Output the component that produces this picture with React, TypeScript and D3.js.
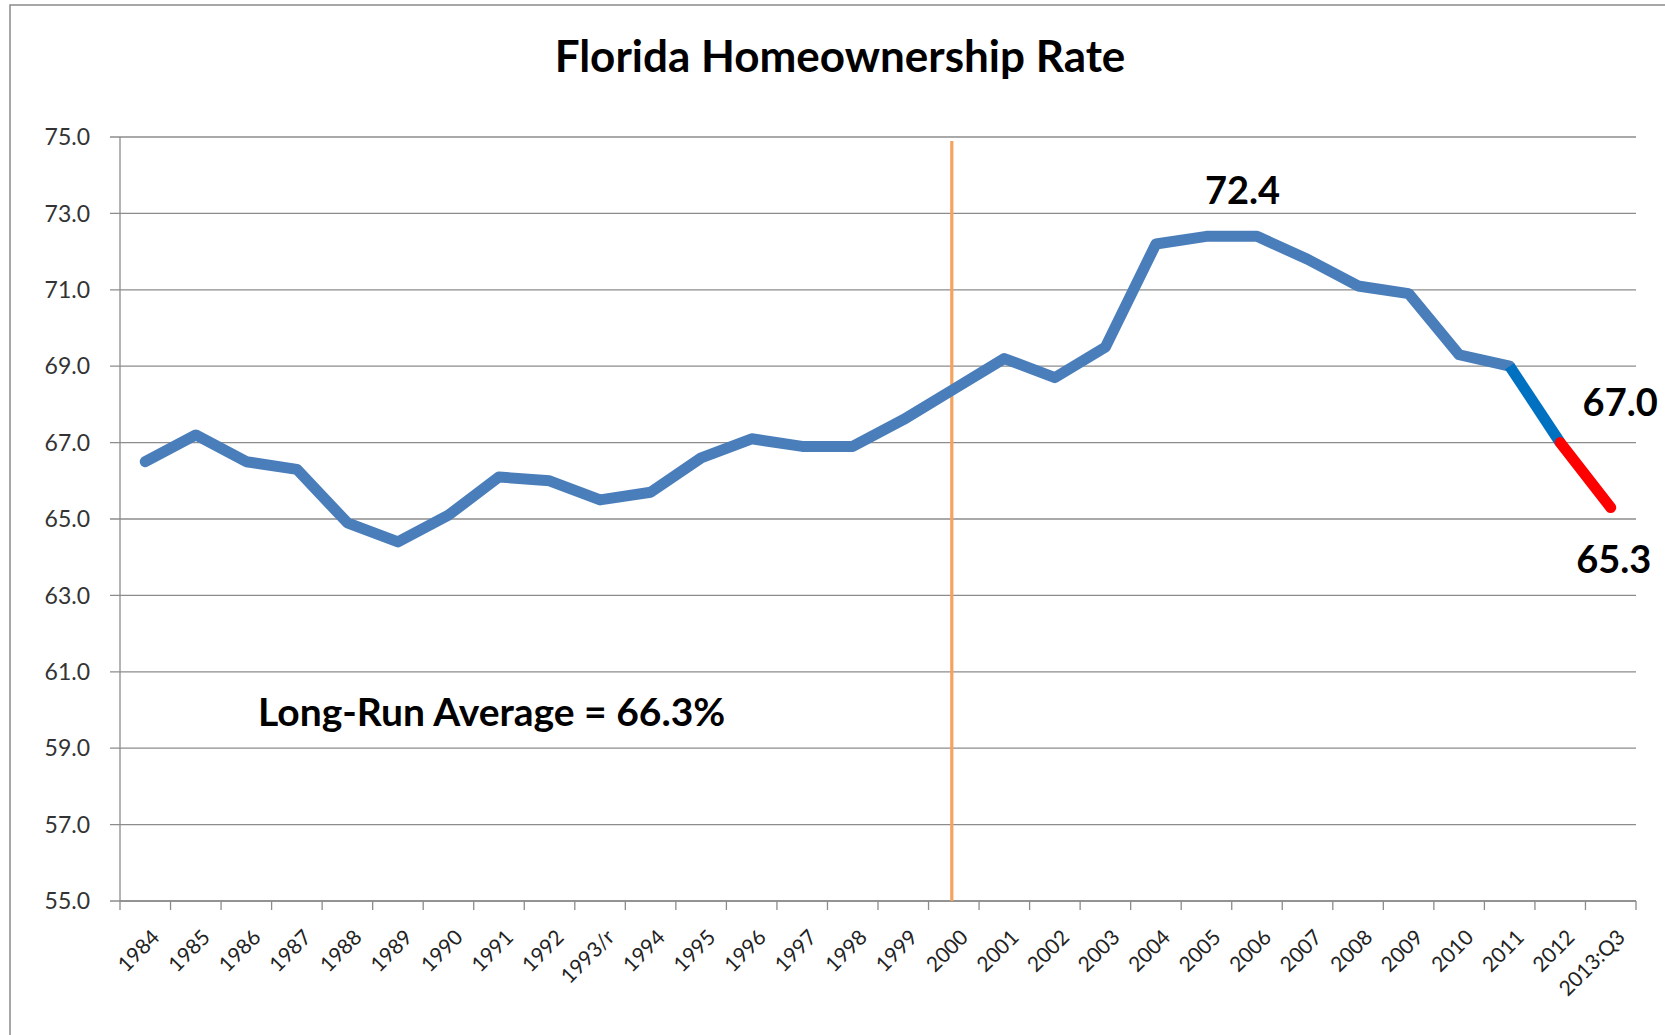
import { useMemo } from 'react';
import * as d3 from 'd3';

const W = 1665;
const H = 1035;

const CATEGORIES = [
  '1984', '1985', '1986', '1987', '1988', '1989', '1990', '1991', '1992', '1993/r',
  '1994', '1995', '1996', '1997', '1998', '1999', '2000', '2001', '2002', '2003',
  '2004', '2005', '2006', '2007', '2008', '2009', '2010', '2011', '2012', '2013:Q3',
];

const RATES = [
  66.5, 67.2, 66.5, 66.3, 64.9, 64.4, 65.1, 66.1, 66.0, 65.5,
  65.7, 66.6, 67.1, 66.9, 66.9, 67.6, 68.4, 69.2, 68.7, 69.5,
  72.2, 72.4, 72.4, 71.8, 71.1, 70.9, 69.3, 69.0, 67.0, 65.3,
];

const Y_TICKS = [55, 57, 59, 61, 63, 65, 67, 69, 71, 73, 75];
const MARKER_CATEGORY = '2000';

// labelled points: category, text, offsets from the point
const CALLOUTS = [
  { cat: '2005', text: '72.4', dx: 36, dy: -32 },
  { cat: '2012', text: '67.0', dx: 60, dy: -27 },
  { cat: '2013:Q3', text: '65.3', dx: 3, dy: 65 },
];

const FONT = 'Lato, "Open Sans", sans-serif';
const MAIN_BLUE = '#4a7ebb';

const margin = { top: 137, right: 29, bottom: 134, left: 120 };

export default function App() {
  const plotW = W - margin.left - margin.right;
  const plotH = H - margin.top - margin.bottom;

  const x = useMemo(
    () => d3.scaleBand().domain(CATEGORIES).range([0, plotW]).paddingInner(0).paddingOuter(0),
    [plotW]
  );
  const y = useMemo(() => d3.scaleLinear().domain([55, 75]).range([plotH, 0]), [plotH]);
  const cx = (c: string) => (x(c) as number) + x.bandwidth() / 2;

  const pts = CATEGORIES.map((c, i) => [cx(c), y(RATES[i])] as [number, number]);
  const line = d3.line();

  const n = pts.length;
  const mainPath = line(pts.slice(0, n - 2)) as string;
  const bluePath = line(pts.slice(n - 3, n - 1)) as string;
  const redPath = line(pts.slice(n - 2, n)) as string;

  const tickXs = CATEGORIES.map(c => x(c) as number).concat([plotW]);
  const markerX = cx(MARKER_CATEGORY) - 2;

  return (
    <div style={{ position: 'fixed', left: 0, top: 0, width: W, height: H, background: '#fff' }}>
      <svg width={W} height={H} style={{ display: 'block' }}>
        <rect x={0} y={0} width={W} height={H} fill="#fff" />
        {/* chart frame */}
        <rect x={10} y={5} width={W + 50} height={H + 50} fill="none" stroke="#8a8a8a" strokeWidth={1.5} />

        <text
          x={840}
          y={72}
          textAnchor="middle"
          fontFamily={FONT}
          fontWeight={700}
          fontSize={44}
          fill="#000"
        >
          Florida Homeownership Rate
        </text>

        <g transform={`translate(${margin.left},${margin.top})`}>
          {/* gridlines + y labels */}
          {Y_TICKS.map(t => (
            <g key={t} transform={`translate(0,${y(t)})`}>
              <line x1={-10} x2={plotW} stroke="#8c8c8c" strokeWidth={1.3} />
              <text
                x={-30}
                dy="0.36em"
                textAnchor="end"
                fontFamily={FONT}
                fontSize={23}
                fill="#333"
              >
                {t.toFixed(1)}
              </text>
            </g>
          ))}

          {/* y axis */}
          <line x1={0} x2={0} y1={0} y2={plotH} stroke="#8c8c8c" strokeWidth={1.3} />

          {/* x axis */}
          <line x1={0} x2={plotW} y1={plotH} y2={plotH} stroke="#8c8c8c" strokeWidth={1.3} />
          {tickXs.map((tx, i) => (
            <line key={i} x1={tx} x2={tx} y1={plotH} y2={plotH + 9} stroke="#8c8c8c" strokeWidth={1.3} />
          ))}
          {CATEGORIES.map(c => (
            <text
              key={c}
              transform={`translate(${cx(c) + 5},${plotH + 27}) rotate(-45)`}
              textAnchor="end"
              dy="0.72em"
              fontFamily={FONT}
              fontSize={21}
              fill="#222"
            >
              {c}
            </text>
          ))}

          {/* vertical marker */}
          <line
            x1={markerX}
            x2={markerX}
            y1={4}
            y2={plotH}
            stroke="#f4a25e"
            strokeWidth={3.2}
          />

          {/* series */}
          <path d={mainPath} fill="none" stroke={MAIN_BLUE} strokeWidth={11} strokeLinejoin="round" strokeLinecap="round" />
          <path d={bluePath} fill="none" stroke="#0070c0" strokeWidth={11} strokeLinecap="butt" />
          <path d={redPath} fill="none" stroke="#ff0000" strokeWidth={11} strokeLinecap="round" />

          {/* average note */}
          <text x={138} y={589} fontFamily={FONT} fontWeight={700} fontSize={39} fill="#000">
            Long-Run Average = 66.3%
          </text>

          {/* callouts */}
          {CALLOUTS.map(c => {
            const i = CATEGORIES.indexOf(c.cat);
            return (
              <text
                key={c.cat}
                x={cx(c.cat) + c.dx}
                y={y(RATES[i]) + c.dy}
                textAnchor="middle"
                fontFamily={FONT}
                fontWeight={700}
                fontSize={38}
                fill="#000"
              >
                {c.text}
              </text>
            );
          })}
        </g>
      </svg>
    </div>
  );
}
